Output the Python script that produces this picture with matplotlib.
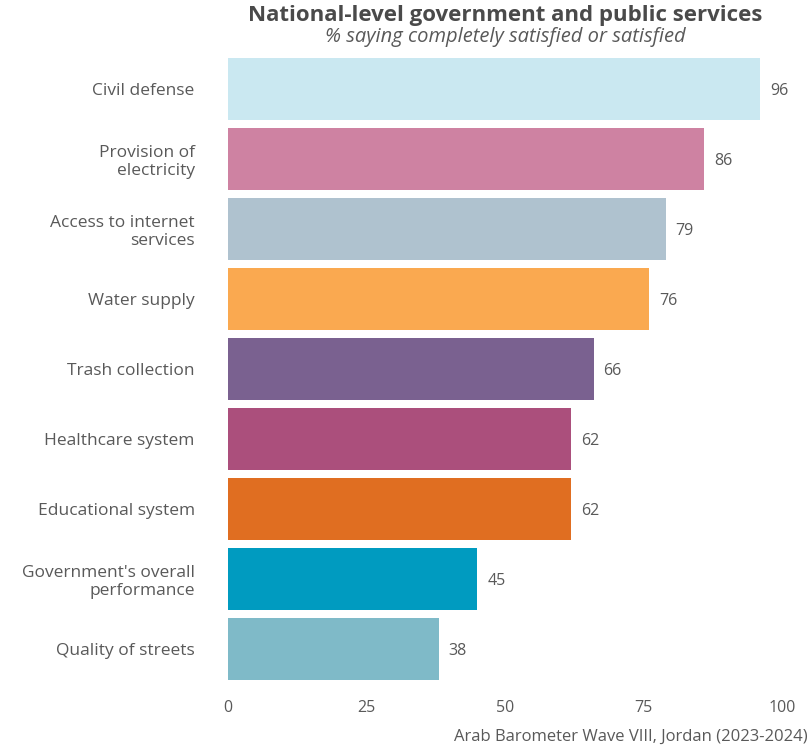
import matplotlib
matplotlib.use('Agg')
import matplotlib.pyplot as plt

categories = ['Civil defense', 'Provision of\nelectricity', 'Access to internet\nservices',
              'Water supply', 'Trash collection', 'Healthcare system', 'Educational system',
              "Government's overall\nperformance", 'Quality of streets']
values = [96, 86, 79, 76, 66, 62, 62, 45, 38]
colors = ['#CAE8F1', '#CE82A2', '#AFC2CF', '#FAA950', '#7A6190',
          '#AB4F7C', '#E06E21', '#009BC0', '#7FBAC8']
xticks = [0, 25, 50, 75, 100]

plt.rcParams['font.family'] = ['Open Sans', 'DejaVu Sans']
txt = '#595959'

fig = plt.figure(figsize=(8.12, 7.48), dpi=100)
ax = fig.add_axes([228 / 812, 1 - 687.5 / 748, (782 - 228) / 812, 637 / 748])
pos = list(range(len(categories)))
ax.barh(pos, values, height=0.886, color=colors)
for p, v in zip(pos, values):
    ax.text(v + 1.8, p, str(v), va='center_baseline', ha='left', fontsize=11.5, color=txt)
ax.set_ylim(8.55, -0.55)
ax.set_xlim(0, 100)
ax.set_yticks(pos)
ax.set_yticklabels(categories, fontsize=12.5, color=txt, linespacing=1.2)
ax.set_xticks(xticks)
ax.set_xticklabels([str(t) for t in xticks], fontsize=11.5, color=txt)
ax.tick_params(length=0)
ax.tick_params(axis='y', pad=24)
ax.tick_params(axis='x', pad=9)
for s in ax.spines.values():
    s.set_visible(False)

fig.text(505 / 812, 1 - 16 / 748, 'National-level government and public services',
         ha='center', va='center', fontsize=16, fontweight='bold', color='#4a4a4a')
fig.text(505 / 812, 1 - 37 / 748, '% saying completely satisfied or satisfied',
         ha='center', va='center', fontsize=14.5, style='italic', color=txt)
fig.text(808 / 812, 1 - 737 / 748, 'Arab Barometer Wave VIII, Jordan (2023-2024)',
         ha='right', va='center', fontsize=12, color=txt)

fig.savefig('out.png', dpi=100)
